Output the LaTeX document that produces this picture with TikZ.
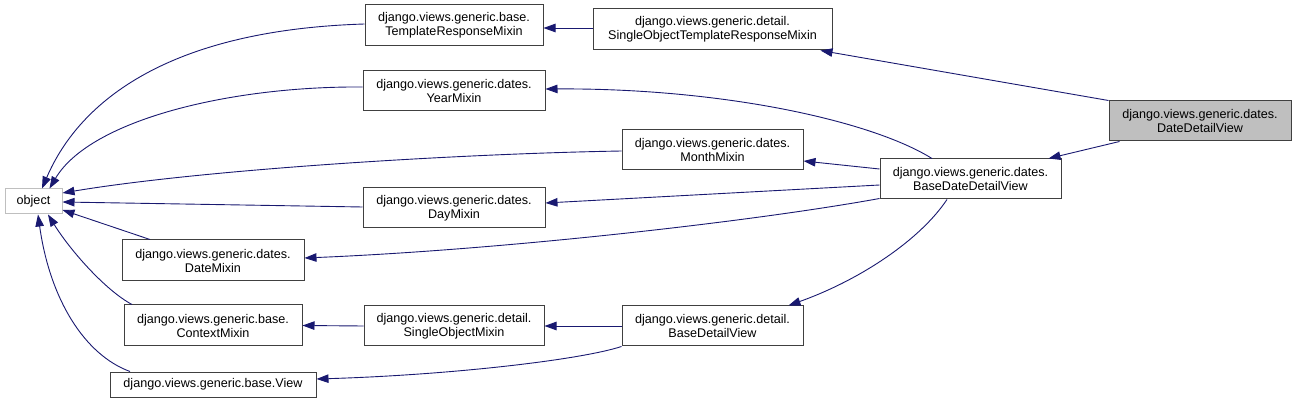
\documentclass[tikz,border=0pt]{standalone}
\usepackage{fontspec}
\setmainfont{Liberation Sans}
\usetikzlibrary{arrows.meta,calc}
\definecolor{edgecol}{HTML}{191970}
\definecolor{boxcol}{HTML}{404040}
\definecolor{greyc}{HTML}{BFBFBF}
\begin{document}
\begin{tikzpicture}[x=1pt,y=-1pt,
  cls/.style={draw=boxcol,line width=1pt,fill=white,inner sep=0pt,align=center,
    font=\fontsize{12.6}{14}\selectfont},
  edge/.style={draw=edgecol,line width=0.9pt,-{Triangle[length=12pt,width=8.5pt]},fill=none}]
\useasboundingbox (0,0) rectangle (1296,403);
\node[cls,draw=greyc,minimum width=57pt,minimum height=25pt] (obj) at (33.5,201.5) {object};
\node[cls,minimum width=178pt,minimum height=41pt] (trm) at (454,25.5) {django.views.generic.base.\\TemplateResponseMixin};
\node[cls,minimum width=239pt,minimum height=41pt] (sotrm) at (712.5,29.5) {django.views.generic.detail.\\SingleObjectTemplateResponseMixin};
\node[cls,minimum width=182pt,minimum height=40pt] (year) at (454,91) {django.views.generic.dates.\\YearMixin};
\node[cls,minimum width=181pt,minimum height=40pt] (month) at (712.5,150) {django.views.generic.dates.\\MonthMixin};
\node[cls,minimum width=182pt,minimum height=40pt] (day) at (454,208) {django.views.generic.dates.\\DayMixin};
\node[cls,minimum width=182pt,minimum height=41pt] (datem) at (213,260.5) {django.views.generic.dates.\\DateMixin};
\node[cls,minimum width=178pt,minimum height=41pt] (ctx) at (213,325.5) {django.views.generic.base.\\ContextMixin};
\node[cls,minimum width=206pt,minimum height=25pt] (view) at (213,384.5) {django.views.generic.base.View};
\node[cls,minimum width=180pt,minimum height=40pt] (som) at (454,326) {django.views.generic.detail.\\SingleObjectMixin};
\node[cls,minimum width=181pt,minimum height=40pt] (bdv) at (712.5,326) {django.views.generic.detail.\\BaseDetailView};
\node[cls,minimum width=181pt,minimum height=40pt] (bddv) at (970.5,179) {django.views.generic.dates.\\BaseDateDetailView};
\node[cls,fill=greyc,minimum width=182pt,minimum height=40pt] (ddv) at (1200,121) {django.views.generic.dates.\\DateDetailView};
% edges to object
\draw[edge] ($(trm.west)+(0,-1.5)$) .. controls (170,30) and (80,100) .. ($(obj.north)+(8.5,0)$);
\draw[edge] ($(year.west)+(0,-4)$) .. controls (230,86) and (90,120) .. ($(obj.north)+(16,0)$);
\draw[edge] ($(month.west)+(0,1)$) .. controls (450,154) and (200,170) .. ($(obj.east)+(0,-8.5)$);
\draw[edge] ($(day.west)+(0,-1)$) -- ($(obj.east)+(0,0.5)$);
\draw[edge] ($(datem.north)+(-63,0)$) -- ($(obj.east)+(0,8.5)$);
\draw[edge] ($(ctx.north)+(-81,0)$) .. controls (105,290) and (70,250) .. ($(obj.south)+(14.5,0)$);
\draw[edge] ($(view.north)+(-83,0)$) .. controls (85,355) and (50,300) .. ($(obj.south)+(4.5,0)$);
% other edges
\draw[edge] ($(sotrm.west)+(0,-1.5)$) -- ($(trm.east)+(0,2.5)$);
\draw[edge] (ddv.north west) -- ($(sotrm.south east)+(-12,0)$);
\draw[edge] ($(ddv.south west)+(11,0)$) -- ($(bddv.north east)+(-13,0)$);
\draw[edge] ($(bddv.north)+(-38.5,0)$) .. controls (870,120) and (720,88) .. ($(year.east)+(0,-2)$);
\draw[edge] ($(bddv.west)+(0,-10)$) -- ($(month.east)+(0,11)$);
\draw[edge] ($(bddv.west)+(0,6)$) -- ($(day.east)+(0,-5)$);
\draw[edge] ($(bddv.south west)+(0,-1)$) .. controls (750,222) and (500,250) .. ($(datem.east)+(0,-2.5)$);
\draw[edge] ($(bddv.south)+(-23.5,0)$) .. controls (920,240) and (860,280) .. ($(bdv.north east)+(-15,0)$);
\draw[edge] (bdv.west) -- (som.east);
\draw[edge] (som.west) -- (ctx.east);
\draw[edge] (bdv.south west) .. controls (580,360) and (450,375) .. ($(view.east)+(0,-5.5)$);
\end{tikzpicture}
\end{document}
